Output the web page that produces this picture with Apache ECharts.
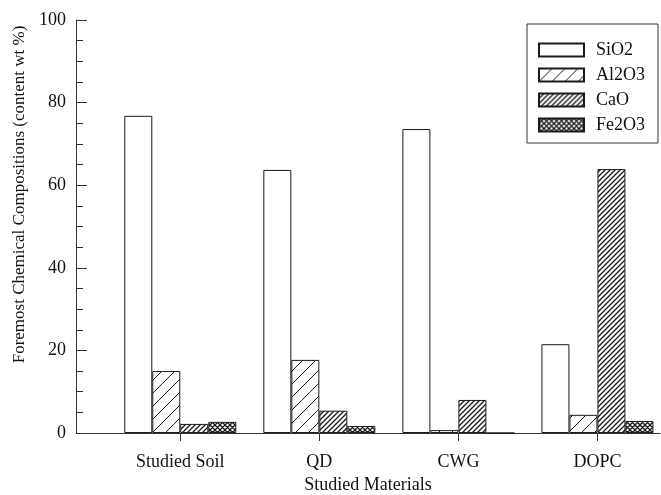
<!DOCTYPE html>
<html>
<head>
<meta charset="utf-8">
<script src="https://cdn.jsdelivr.net/npm/echarts@6/dist/echarts.min.js"></script>
<style>
  html, body { margin: 0; padding: 0; background: #fff; }
  #chart { width: 661px; height: 495px; }
</style>
</head>
<body>
<div id="chart"></div>
<script>
const categories = ['Studied Soil', 'QD', 'CWG', 'DOPC']
const seriesNames = ['SiO2', 'Al2O3', 'CaO', 'Fe2O3']
const sio2 = [76.8, 63.7, 73.6, 21.5]
const al2o3 = [15.0, 17.7, 0.7, 4.4]
const cao = [2.2, 5.4, 8.0, 63.9]
const fe2o3 = [2.7, 1.7, 0, 2.9]
const yTicks = [0, 20, 40, 60, 80, 100]

const font = '"Liberation Serif", "DejaVu Serif", serif'

// hatch fills, drawn onto small tiles
function hatch(size, width, cross) {
  const c = document.createElement('canvas')
  c.width = size
  c.height = size
  const ctx = c.getContext('2d')
  ctx.fillStyle = '#fff'
  ctx.fillRect(0, 0, size, size)
  ctx.strokeStyle = '#1a1a1a'
  ctx.lineWidth = width
  ctx.beginPath()
  ctx.moveTo(0, size); ctx.lineTo(size, 0)
  ctx.moveTo(-1, 1); ctx.lineTo(1, -1)
  ctx.moveTo(size - 1, size + 1); ctx.lineTo(size + 1, size - 1)
  if (cross) {
    ctx.moveTo(0, 0); ctx.lineTo(size, size)
    ctx.moveTo(-1, size - 1); ctx.lineTo(1, size + 1)
    ctx.moveTo(size - 1, -1); ctx.lineTo(size + 1, 1)
  }
  ctx.stroke()
  return { image: c, repeat: 'repeat' }
}

const fills = ['#fff', hatch(13, 1, false), hatch(5, 1.3, false), hatch(5, 1.3, true)]
const values = [sio2, al2o3, cao, fe2o3]

const chart = echarts.init(document.getElementById('chart'))
chart.setOption({
  animation: false,
  backgroundColor: '#fff',
  grid: { left: 76, top: 20, right: 1, bottom: 62, outerBoundsMode: 'none' },
  legend: {
    orient: 'vertical',
    left: 527,
    top: 24,
    padding: [17, 13, 9, 11],
    itemWidth: 45,
    itemHeight: 13,
    itemGap: 7,
    borderColor: '#333',
    borderWidth: 1,
    icon: 'rect',
    textStyle: { fontFamily: font, fontSize: 18, color: '#111', padding: [0, 0, 0, 7] },
    data: seriesNames
  },
  xAxis: {
    type: 'value',
    min: 0.25,
    max: 4.45,
    name: 'Studied Materials',
    nameLocation: 'middle',
    nameGap: 43,
    nameTextStyle: { fontFamily: font, fontSize: 18, color: '#111' },
    splitLine: { show: false },
    axisLine: { show: true, lineStyle: { color: '#333' } },
    axisTick: { show: true, length: 8, customValues: [1, 2, 3, 4], lineStyle: { color: '#333' } },
    axisLabel: {
      customValues: [1, 2, 3, 4],
      margin: 20,
      fontFamily: font,
      fontSize: 18,
      color: '#111',
      formatter: (v) => categories[v - 1]
    }
  },
  yAxis: {
    type: 'value',
    min: yTicks[0],
    max: yTicks[yTicks.length - 1],
    interval: 20,
    name: 'Foremost Chemical Compositions (content wt %)',
    nameLocation: 'middle',
    nameGap: 45,
    nameTextStyle: { fontFamily: font, fontSize: 17, color: '#111', padding: [0, 0, 0, 64] },
    splitLine: { show: false },
    axisLine: { show: true, lineStyle: { color: '#333' } },
    axisTick: { show: true, inside: true, length: 11, lineStyle: { color: '#333' } },
    minorTick: { show: true, splitNumber: 4, length: 7, lineStyle: { color: '#333' } },
    axisLabel: { margin: 10, fontFamily: font, fontSize: 18, color: '#111' }
  },
  series: seriesNames.map((name, i) => ({
    name,
    type: 'bar',
    barWidth: 28,
    barGap: '0%',
    data: values[i].map((v, j) => [j + 1, v]),
    itemStyle: { color: fills[i], borderColor: '#1a1a1a', borderWidth: 1 }
  }))
})
</script>
</body>
</html>
